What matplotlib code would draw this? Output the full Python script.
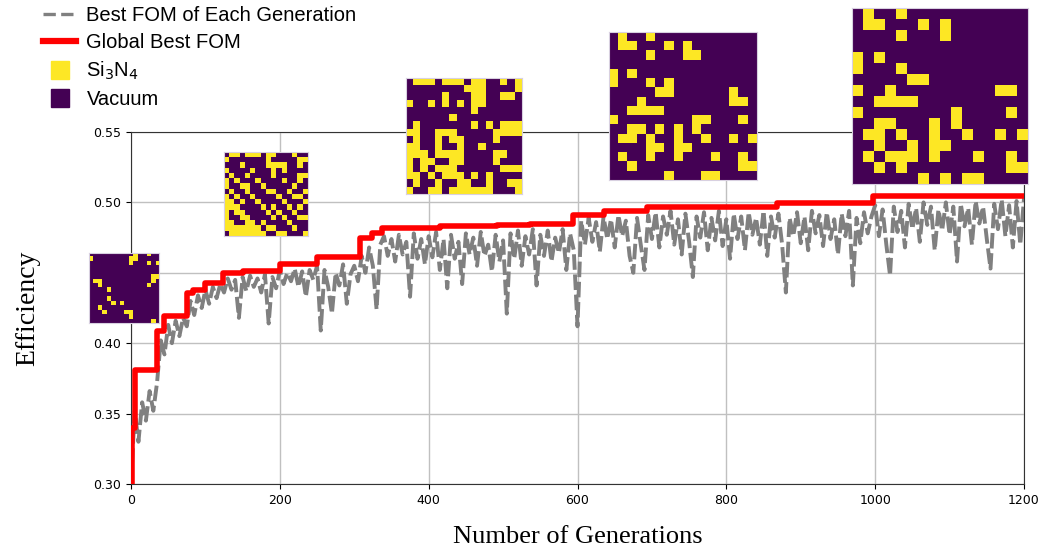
import matplotlib
matplotlib.use('Agg')
import matplotlib.pyplot as plt
import numpy as np
from matplotlib.lines import Line2D

# best FOM of each generation, sampled every 5 generations
gen_each = np.arange(0, 1201, 5)
fom_each = [
    0.300, 0.352, 0.330, 0.358, 0.345, 0.366, 0.352, 0.372, 0.402, 0.392,
    0.413, 0.400, 0.416, 0.405, 0.418, 0.412, 0.430, 0.420, 0.434, 0.425,
    0.438, 0.428, 0.440, 0.432, 0.442, 0.436, 0.446, 0.438, 0.445, 0.418,
    0.447, 0.437, 0.448, 0.440, 0.446, 0.436, 0.449, 0.414, 0.447, 0.439,
    0.452, 0.442, 0.450, 0.444, 0.453, 0.440, 0.451, 0.433, 0.452, 0.445,
    0.455, 0.409, 0.452, 0.440, 0.421, 0.450, 0.441, 0.456, 0.428, 0.449,
    0.455, 0.444, 0.462, 0.450, 0.468, 0.455, 0.424, 0.470, 0.476, 0.462,
    0.474, 0.458, 0.477, 0.463, 0.472, 0.433, 0.478, 0.460, 0.474, 0.456,
    0.476, 0.461, 0.479, 0.452, 0.474, 0.439, 0.477, 0.460, 0.472, 0.442,
    0.478, 0.463, 0.475, 0.455, 0.479, 0.462, 0.470, 0.451, 0.477, 0.458,
    0.473, 0.421, 0.478, 0.460, 0.480, 0.455, 0.476, 0.463, 0.481, 0.441,
    0.477, 0.462, 0.480, 0.458, 0.475, 0.464, 0.481, 0.452, 0.478, 0.466,
    0.412, 0.487, 0.470, 0.489, 0.472, 0.486, 0.465, 0.490, 0.474, 0.488,
    0.468, 0.491, 0.476, 0.487, 0.462, 0.450, 0.489, 0.470, 0.452, 0.491,
    0.474, 0.493, 0.468, 0.490, 0.477, 0.494, 0.470, 0.488, 0.463, 0.492,
    0.472, 0.447, 0.490, 0.475, 0.493, 0.466, 0.489, 0.473, 0.494, 0.469,
    0.488, 0.460, 0.492, 0.474, 0.490, 0.466, 0.493, 0.477, 0.489, 0.470,
    0.494, 0.462, 0.490, 0.475, 0.492, 0.470, 0.436, 0.489, 0.476, 0.493,
    0.471, 0.490, 0.466, 0.494, 0.478, 0.491, 0.469, 0.493, 0.474, 0.488,
    0.463, 0.492, 0.476, 0.494, 0.441, 0.489, 0.471, 0.493, 0.478, 0.490,
    0.498, 0.476, 0.495, 0.470, 0.448, 0.497, 0.479, 0.494, 0.468, 0.499,
    0.481, 0.496, 0.472, 0.500, 0.484, 0.497, 0.466, 0.495, 0.480, 0.500,
    0.477, 0.497, 0.458, 0.499, 0.483, 0.496, 0.470, 0.501, 0.485, 0.497,
    0.474, 0.453, 0.499, 0.481, 0.502, 0.476, 0.498, 0.468, 0.501, 0.470,
    0.503,
]

# global best FOM, step changes
gen_best = [0, 2, 5, 35, 45, 75, 83, 100, 124, 150, 200, 250, 308, 324, 337,
            415, 492, 536, 594, 635, 693, 868, 997, 1200]
fom_best = [0.300, 0.340, 0.381, 0.409, 0.419, 0.436, 0.438, 0.443, 0.450, 0.451,
            0.456, 0.461, 0.475, 0.478, 0.482, 0.483, 0.484, 0.485, 0.491, 0.494,
            0.497, 0.4995, 0.5045, 0.5045]

xticks = [0, 200, 400, 600, 800, 1000, 1200]
yticks = [0.30, 0.35, 0.40, 0.45, 0.50, 0.55]

# structure snapshots (1 = Si3N4, 0 = vacuum)
pattern1 = [
    "0000000000100100",
    "1000000001100000",
    "0000000001000101",
    "0000000000000000",
    "0000000000000000",
    "0000000000000011",
    "0110000000000010",
    "0010000000000100",
    "0000100000000000",
    "0000000000000000",
    "0000100000000000",
    "0000010100000000",
    "0010000000000000",
    "0001000011000000",
    "0000000001000000",
    "0000000000000010",
]
pattern2 = [
    "0110111011000100",
    "1000000010000011",
    "0001000011110010",
    "1000010001010000",
    "0100100001000011",
    "1010001000010010",
    "1001100100000100",
    "0100100011001001",
    "1010010000100110",
    "1101001000010001",
    "1110000101001010",
    "1011000010100100",
    "1001100001010011",
    "1100110100001000",
    "1111111011000100",
    "0111111100110001",
]
pattern3 = [
    "0111011101100101",
    "0000000011100001",
    "0000010001100110",
    "1001010101100000",
    "0000000001000000",
    "0000001000000000",
    "0100000001010111",
    "1100111000001111",
    "0100101100001000",
    "1100100100100000",
    "1110111100001100",
    "1011001100001000",
    "1010111000000111",
    "1101011101010000",
    "0100100110010011",
    "1001101111110001",
]
pattern4 = [
    "0100100000000000",
    "0110001010000000",
    "0000100011000000",
    "0000000000000000",
    "1010000000000000",
    "1000101000000000",
    "0000011000000100",
    "0001000000000110",
    "0011110000000000",
    "1000000001100010",
    "0011010101000000",
    "0110100100100101",
    "0000110110000000",
    "0100100100010010",
    "0010000000000011",
    "0000001000110000",
]
pattern5 = [
    "0100100000000000",
    "0110001010000000",
    "0000100010000000",
    "0000000000000000",
    "1010000000000000",
    "1000100000000000",
    "0000011000000000",
    "1001000000000110",
    "0011110000000000",
    "1000000001000010",
    "0011000101000000",
    "0110100100100101",
    "0010010110000000",
    "0101110100010010",
    "0010100000000011",
    "0000001010110000",
]

W, H = 1041, 552
fig = plt.figure(figsize=(W / 100, H / 100), dpi=100)
ax = fig.add_axes([131 / W, 1 - 484 / H, 893 / W, 352 / H])

ax.plot(gen_each, fom_each, color='gray', lw=2.8, dashes=(4, 1.2), zorder=2)
ax.step(gen_best, fom_best, where='post', color='red', lw=4, zorder=3)

ax.set_xlim(0, 1200)
ax.set_ylim(0.30, 0.55)
ax.set_xticks(xticks)
ax.set_yticks(yticks)
ax.set_yticklabels(['%.2f' % v for v in yticks])
ax.tick_params(labelsize=9)
ax.grid(True, color='#c0c0c0', lw=1)
ax.set_axisbelow(True)
for s in ax.spines.values():
    s.set_color('#333333')

ax.set_xlabel('Number of Generations', family='Liberation Serif', fontsize=19, labelpad=14)
ax.set_ylabel('Efficiency', family='Liberation Serif', fontsize=20, labelpad=38)

handles = [
    Line2D([], [], color='gray', ls='--', lw=2.4),
    Line2D([], [], color='red', lw=4.5),
    Line2D([], [], marker='s', ls='None', markersize=13,
           markerfacecolor='#fde725', markeredgecolor='#fde725'),
    Line2D([], [], marker='s', ls='None', markersize=13,
           markerfacecolor='#440154', markeredgecolor='#440154'),
]
labels = ['Best FOM of Each Generation', 'Global Best FOM', 'Si$_3$N$_4$', 'Vacuum']
fig.legend(handles, labels, loc='upper left', bbox_to_anchor=(0.024, 1.022),
           frameon=False, prop={'family': 'Liberation Sans', 'size': 14.5},
           handlelength=1.65, handletextpad=0.5, labelspacing=0.4)

# insets: (pattern, left, top, size) in pixels
insets = [
    (pattern1, 89, 253, 70),
    (pattern2, 224, 152, 84),
    (pattern3, 406, 78, 116),
    (pattern4, 609, 32, 148),
    (pattern5, 852, 8, 176),
]
for pat, x0, y0, sz in insets:
    arr = np.array([[int(c) for c in row] for row in pat])
    iax = fig.add_axes([x0 / W, 1 - (y0 + sz) / H, sz / W, sz / H])
    iax.imshow(arr, cmap='viridis', vmin=0, vmax=1, interpolation='nearest')
    iax.set_xticks([])
    iax.set_yticks([])
    for s in iax.spines.values():
        s.set_color('#d8d0e0')
        s.set_linewidth(0.8)

fig.savefig('out.png', dpi=100)
